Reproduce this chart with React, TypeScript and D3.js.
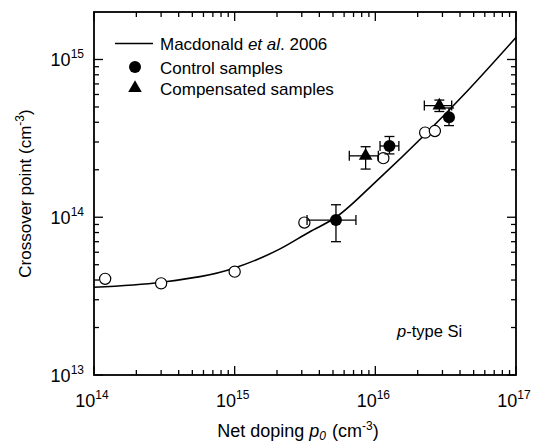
import React from "react";
import * as d3 from "d3";

// ---- data ----
const curveX = [1e14, 3e14, 1e15, 2.1e15, 3.4e15, 5.25e15, 1.05e16, 4.58e16, 1e17];
const curveY = [3.6e13, 3.87e13, 4.77e13, 6.3e13, 8.07e13, 1.0e14, 1.74e14, 6.41e14, 1.38e15];

const openX = [1.2e14, 3e14, 1e15, 3.13e15, 1.14e16, 2.26e16, 2.65e16];
const openY = [4.07e13, 3.81e13, 4.52e13, 9.25e13, 2.37e14, 3.44e14, 3.52e14];

const controlX = [5.25e15, 1.26e16, 3.34e16];
const controlY = [9.6e13, 2.83e14, 4.3e14];
const controlXLo = [3.27e15, 1.08e16, 3.34e16];
const controlXHi = [7.28e15, 1.47e16, 3.34e16];
const controlYLo = [7.0e13, 2.52e14, 3.81e14];
const controlYHi = [1.2e14, 3.25e14, 4.93e14];

const compX = [8.53e15, 2.85e16];
const compY = [2.45e14, 5.1e14];
const compXLo = [6.53e15, 2.23e16];
const compXHi = [1.05e16, 3.49e16];
const compYLo = [2.02e14, 4.68e14];
const compYHi = [2.8e14, 5.53e14];

const xMajor = [14, 15, 16, 17];
const yMajor = [13, 14, 15];

const legendLabels = ["Control samples", "Compensated samples"];

const W = 534, H = 445;
const L = 94, R = 516, T = 12, B = 375;
const FONT = "Arial, 'Liberation Sans', Helvetica, sans-serif";

export default function App() {
  const x = d3.scaleLog().domain([1e14, 1e17]).range([L, R]);
  const y = d3.scaleLog().domain([1e13, 2e15]).range([B, T]);

  const xMinor: number[] = [];
  for (let e = 14; e < 17; e++) for (let m = 2; m <= 9; m++) xMinor.push(m * Math.pow(10, e));
  const yMinor: number[] = [];
  for (let e = 13; e < 16; e++) for (let m = 2; m <= 9; m++) {
    const v = m * Math.pow(10, e);
    if (v < 2e15) yMinor.push(v);
  }

  const line = d3
    .line<number>()
    .x((_, i) => x(curveX[i]))
    .y((_, i) => y(curveY[i]))
    .curve(d3.curveMonotoneX);
  const curvePath = line(curveX) || "";

  const tri = d3.symbol().type(d3.symbolTriangle).size(80)() || "";
  const MAJ = 9, MIN = 5;
  const cap = 5;

  const errBars = (
    xs: number[], ys: number[], xlo: number[], xhi: number[], ylo: number[], yhi: number[], key: string
  ) =>
    xs.map((v, i) => {
      const cx = x(v), cy = y(ys[i]);
      const x1 = x(xlo[i]), x2 = x(xhi[i]);
      const y1 = y(ylo[i]), y2 = y(yhi[i]);
      return (
        <g key={key + i} stroke="#000" strokeWidth={1.3} fill="none">
          {x2 - x1 > 1 && (
            <>
              <line x1={x1} x2={x2} y1={cy} y2={cy} />
              <line x1={x1} x2={x1} y1={cy - cap} y2={cy + cap} />
              <line x1={x2} x2={x2} y1={cy - cap} y2={cy + cap} />
            </>
          )}
          <line x1={cx} x2={cx} y1={y1} y2={y2} />
          <line x1={cx - cap} x2={cx + cap} y1={y1} y2={y1} />
          <line x1={cx - cap} x2={cx + cap} y1={y2} y2={y2} />
        </g>
      );
    });

  return (
    <svg width={W} height={H} style={{ position: "absolute", left: 0, top: 0, background: "#fff" }} fontFamily={FONT}>
      <rect x={0} y={0} width={W} height={H} fill="#fff" />
      {/* ticks */}
      <g stroke="#000" strokeWidth={1.3}>
        {xMajor.map((e) => {
          const px = x(Math.pow(10, e));
          return (
            <g key={"xm" + e}>
              <line x1={px} x2={px} y1={B} y2={B - MAJ} />
              <line x1={px} x2={px} y1={T} y2={T + MAJ} />
            </g>
          );
        })}
        {xMinor.map((v) => {
          const px = x(v);
          return (
            <g key={"xn" + v}>
              <line x1={px} x2={px} y1={B} y2={B - MIN} />
              <line x1={px} x2={px} y1={T} y2={T + MIN} />
            </g>
          );
        })}
        {yMajor.map((e) => {
          const py = y(Math.pow(10, e));
          return (
            <g key={"ym" + e}>
              <line x1={L} x2={L + MAJ} y1={py} y2={py} />
              <line x1={R} x2={R - MAJ} y1={py} y2={py} />
            </g>
          );
        })}
        {yMinor.map((v) => {
          const py = y(v);
          return (
            <g key={"yn" + v}>
              <line x1={L} x2={L + MIN} y1={py} y2={py} />
              <line x1={R} x2={R - MIN} y1={py} y2={py} />
            </g>
          );
        })}
      </g>
      <rect x={L} y={T} width={R - L} height={B - T} fill="none" stroke="#000" strokeWidth={1.8} />

      {/* tick labels */}
      {xMajor.map((e) => (
        <text key={"xl" + e} x={x(Math.pow(10, e)) - 2} y={407} textAnchor="middle" fontSize={18}>
          10<tspan fontSize={12} dy={-8}>{e}</tspan>
        </text>
      ))}
      {yMajor.map((e) => (
        <text key={"yl" + e} x={84} y={y(Math.pow(10, e)) + 7} textAnchor="end" fontSize={18}>
          10<tspan fontSize={12} dy={-8}>{e}</tspan>
        </text>
      ))}

      {/* axis titles */}
      <text x={298} y={437} textAnchor="middle" fontSize={18}>
        Net doping <tspan fontStyle="italic">p</tspan>
        <tspan fontStyle="italic" fontSize={12} dy={3}>0</tspan>
        <tspan dy={-3} dx={6}>(cm</tspan>
        <tspan fontSize={12} dy={-7}>-3</tspan>
        <tspan dy={7}>)</tspan>
      </text>
      <text transform={`translate(31,${(T + B) / 2}) rotate(-90)`} textAnchor="middle" fontSize={17}>
        Crossover point (cm<tspan fontSize={12} dy={-7}>-3</tspan>
        <tspan dy={7}>)</tspan>
      </text>

      {/* curve */}
      <path d={curvePath} fill="none" stroke="#000" strokeWidth={1.6} />

      {/* open circles */}
      {openX.map((v, i) => (
        <circle key={"o" + i} cx={x(v)} cy={y(openY[i])} r={5.6} fill="#fff" stroke="#000" strokeWidth={1.2} />
      ))}

      {/* error bars */}
      {errBars(controlX, controlY, controlXLo, controlXHi, controlYLo, controlYHi, "ce")}
      {errBars(compX, compY, compXLo, compXHi, compYLo, compYHi, "te")}

      {/* filled markers */}
      {controlX.map((v, i) => (
        <circle key={"c" + i} cx={x(v)} cy={y(controlY[i])} r={6} fill="#000" />
      ))}
      {compX.map((v, i) => (
        <path key={"t" + i} d={tri} transform={`translate(${x(v)},${y(compY[i])})`} fill="#000" />
      ))}

      {/* legend */}
      <line x1={115} x2={153} y1={43.5} y2={43.5} stroke="#000" strokeWidth={1.6} />
      <text x={160} y={50} fontSize={17}>
        Macdonald <tspan fontStyle="italic">et al</tspan>. 2006
      </text>
      <circle cx={135} cy={67} r={6} fill="#000" />
      <text x={160} y={73.5} fontSize={17}>{legendLabels[0]}</text>
      <path d={tri} transform="translate(135,88)" fill="#000" />
      <text x={160} y={95} fontSize={17}>{legendLabels[1]}</text>

      {/* annotation */}
      <text x={397} y={337} fontSize={16.5}>
        <tspan fontStyle="italic">p</tspan>-type Si
      </text>
    </svg>
  );
}
